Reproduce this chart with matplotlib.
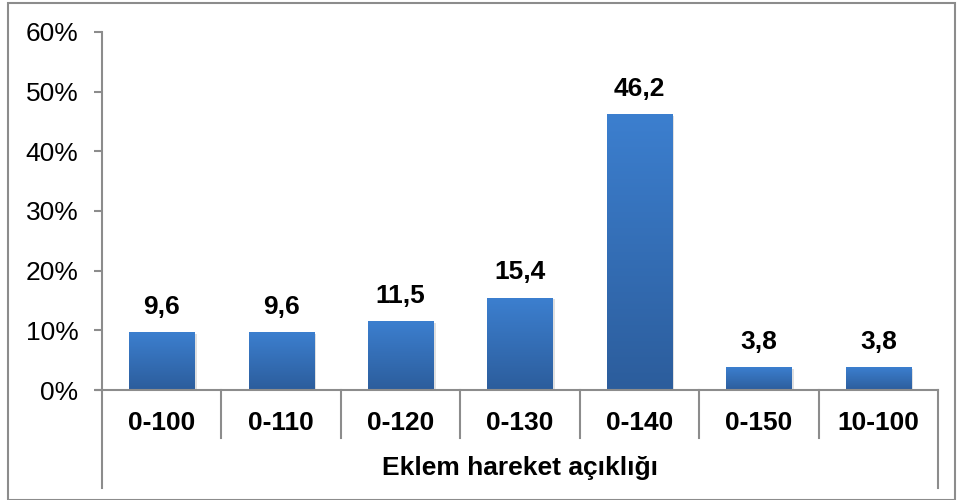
import numpy as np
import matplotlib.pyplot as plt
from matplotlib.colors import LinearSegmentedColormap
from matplotlib.patches import Rectangle
from matplotlib.ticker import FuncFormatter

categories = ['0-100', '0-110', '0-120', '0-130', '0-140', '0-150', '10-100']
values = [9.6, 9.6, 11.5, 15.4, 46.2, 3.8, 3.8]
value_labels = ['9,6', '9,6', '11,5', '15,4', '46,2', '3,8', '3,8']
xlabel = 'Eklem hareket açıklığı'

plt.rcParams['font.family'] = ['Liberation Sans', 'DejaVu Sans']

fig = plt.figure(figsize=(9.57, 5.0), dpi=100)
ax = fig.add_axes([102 / 957, 110 / 500, 836 / 957, 358 / 500])

# outer chart border
fig.patches.append(Rectangle((8 / 957, 0.0), 947 / 957, 497 / 500, transform=fig.transFigure,
                             fill=False, edgecolor='#8c8c8c', linewidth=1.5))

grad = LinearSegmentedColormap.from_list('bar', ['#2c5d9c', '#3c7fcf'])
g = np.linspace(0, 1, 256).reshape(-1, 1)
w = 0.545
for i, v in enumerate(values):
    top = v / 100
    # soft shadow
    ax.add_patch(Rectangle((i - w / 2 + 0.02, 0), w, top - 0.002, facecolor='#000000',
                           alpha=0.12, linewidth=0, zorder=1))
    ax.imshow(g, extent=[i - w / 2, i + w / 2, 0, top], origin='lower', cmap=grad,
              aspect='auto', zorder=2)
    ax.annotate(value_labels[i], (i, top), xytext=(0, 18.5), textcoords='offset points',
                ha='center', va='center', fontsize=19, fontweight='bold')

ax.set_xlim(-0.5, len(categories) - 0.5)
ax.set_ylim(0, 0.6)
ax.set_yticks(np.arange(0, 0.61, 0.1))
ax.yaxis.set_major_formatter(FuncFormatter(lambda y, _: f'{y * 100:.0f}%'))
ax.tick_params(axis='y', labelsize=19, length=6, width=1.5, color='#8c8c8c', pad=11)
ax.set_xticks([])

for s in ['top', 'right']:
    ax.spines[s].set_visible(False)
for s in ['left', 'bottom']:
    ax.spines[s].set_color('#8c8c8c')
    ax.spines[s].set_linewidth(1.5)
ax.spines['bottom'].set_bounds(-0.55, len(categories) - 0.5)

trans = ax.get_xaxis_transform()
# category separators
for k in range(1, len(categories)):
    ax.plot([k - 0.5, k - 0.5], [0, -48 / 358], transform=trans, color='#8c8c8c',
            linewidth=1.5, clip_on=False)
# outer verticals of the category table
for x in [-0.5, len(categories) - 0.5]:
    ax.plot([x, x], [0, -98 / 358], transform=trans, color='#8c8c8c',
            linewidth=1.5, clip_on=False)

for i, c in enumerate(categories):
    ax.text(i, -33 / 358, c, transform=trans, ha='center', va='center',
            fontsize=19, fontweight='bold')
ax.text((len(categories) - 1) / 2, -78 / 358, xlabel, transform=trans, ha='center',
        va='center', fontsize=19, fontweight='bold')

fig.savefig('out.png', dpi=100)
